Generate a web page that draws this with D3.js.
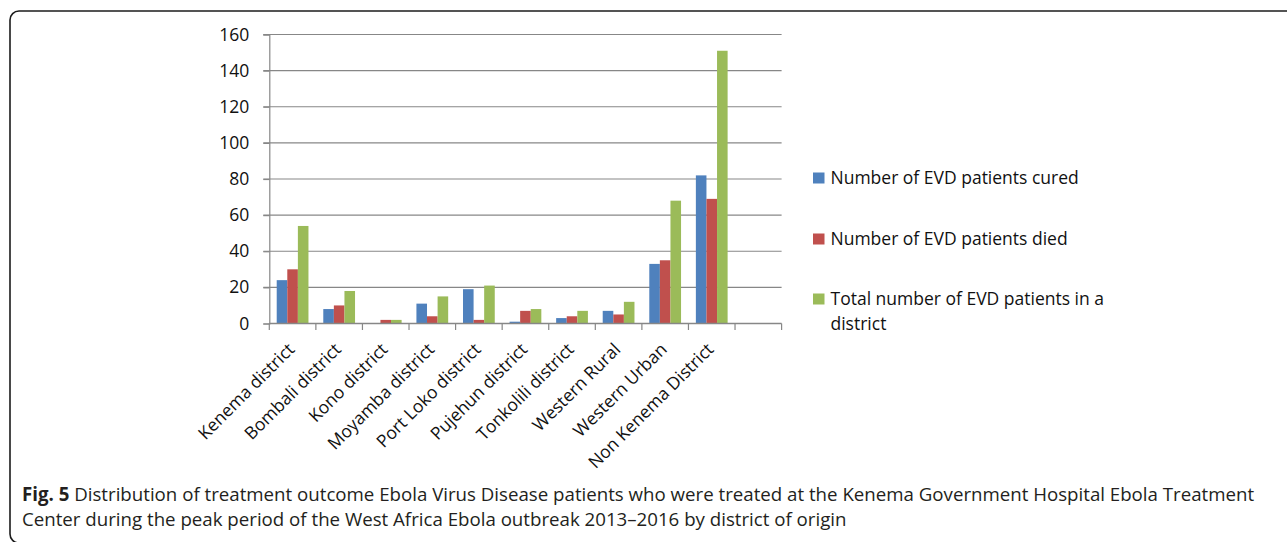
<!DOCTYPE html>
<html>
<head>
<meta charset="utf-8">
<script src="https://cdn.jsdelivr.net/npm/d3@7"></script>
<style>
  html, body { margin: 0; padding: 0; background: #fff; }
  svg { display: block; }
</style>
</head>
<body>
<svg id="chart" width="1287" height="542"></svg>
<script>
const categories = ["Kenema district", "Bombali district", "Kono district", "Moyamba district", "Port Loko district", "Pujehun district", "Tonkolili district", "Western Rural", "Western Urban", "Non Kenema District", ""];
const seriesNames = ["Number of EVD patients cured", "Number of EVD patients died", "Total number of EVD patients in a district"];
const cured = [24, 8, 0, 11, 19, 1, 3, 7, 33, 82];
const died = [30, 10, 2, 4, 2, 7, 4, 5, 35, 69];
const total = [54, 18, 2, 15, 21, 8, 7, 12, 68, 151];
const yTicks = [0, 20, 40, 60, 80, 100, 120, 140, 160];
const colors = ["#4F81BD", "#C0504D", "#9BBB59"];
const captionBold = "Fig. 5";
const captionLine1 = " Distribution of treatment outcome Ebola Virus Disease patients who were treated at the Kenema Government Hospital Ebola Treatment";
const captionLine2 = "Center during the peak period of the West Africa Ebola outbreak 2013\u20132016 by district of origin";

(function () {
const series = [cured, died, total];
const svg = d3.select("#chart");
const font = "'Open Sans', Lato, sans-serif";
const fs = 17.5;
const gridColor = "#878787";

svg.append("rect")
  .attr("x", 10).attr("y", 11)
  .attr("width", 1320).attr("height", 532)
  .attr("rx", 9).attr("ry", 9)
  .attr("fill", "none").attr("stroke", "#1c1c1c").attr("stroke-width", 1.6);

const pLeft = 269.3, pRight = 781.6, pTop = 34.5, pBottom = 323.5;
const x = d3.scaleBand().domain(categories.map((c, i) => i)).range([pLeft, pRight]).paddingInner(0).paddingOuter(0);
const y = d3.scaleLinear().domain([0, 160]).range([pBottom, pTop]);
const xs = d3.scaleBand().domain([0, 1, 2]).range([0, x.bandwidth()]).paddingInner(0).paddingOuter(0.7);

svg.append("g").selectAll("line").data(yTicks.filter(d => d > 0)).join("line")
  .attr("x1", pLeft - 6).attr("x2", pRight)
  .attr("y1", d => y(d)).attr("y2", d => y(d))
  .attr("stroke", gridColor).attr("stroke-width", 1.2);

const groups = svg.append("g").selectAll("g").data(d3.range(cured.length)).join("g")
  .attr("transform", i => `translate(${x(i)},0)`);
groups.selectAll("rect").data(i => series.map((s, k) => ({k, v: s[i]}))).join("rect")
  .attr("x", d => xs(d.k))
  .attr("width", xs.bandwidth())
  .attr("y", d => y(d.v))
  .attr("height", d => pBottom - y(d.v))
  .attr("fill", d => colors[d.k]);

const yAxis = d3.axisLeft(y).tickValues(yTicks).tickSize(6).tickPadding(14);
const gy = svg.append("g").attr("transform", `translate(${pLeft},0)`).call(yAxis);
gy.select(".domain").attr("stroke", gridColor).attr("stroke-width", 1.2);
gy.selectAll(".tick line").attr("stroke", gridColor).attr("stroke-width", 1.2);
gy.selectAll("text").attr("font-family", font).attr("font-size", fs).attr("fill", "#111");

svg.append("line").attr("x1", pLeft).attr("x2", pRight).attr("y1", pBottom).attr("y2", pBottom)
  .attr("stroke", gridColor).attr("stroke-width", 1.3);
svg.append("g").selectAll("line").data(d3.range(categories.length + 1)).join("line")
  .attr("x1", b => b < categories.length ? x(b) : pRight)
  .attr("x2", b => b < categories.length ? x(b) : pRight)
  .attr("y1", pBottom).attr("y2", pBottom + 6.5)
  .attr("stroke", gridColor).attr("stroke-width", 1.2);

svg.append("g").selectAll("text").data(categories).join("text")
  .attr("transform", (c, i) => `translate(${x(i) + x.bandwidth() / 2 + 3},${pBottom + 27}) rotate(-45)`)
  .attr("text-anchor", "end")
  .attr("font-family", font).attr("font-size", fs).attr("fill", "#111")
  .text(c => c);

const legendRows = [
  {k: 0, cy: 178, lines: [seriesNames[0]]},
  {k: 1, cy: 239, lines: [seriesNames[1]]},
  {k: 2, cy: 299, lines: ["Total number of EVD patients in a", "district"]}
];
const lg = svg.append("g");
legendRows.forEach(r => {
  lg.append("rect").attr("x", 813).attr("y", r.cy - 5.5).attr("width", 11.5).attr("height", 11)
    .attr("fill", colors[r.k]);
  const t = lg.append("text").attr("x", 830.5).attr("y", r.cy + 6)
    .attr("font-family", font).attr("font-size", fs).attr("fill", "#111");
  r.lines.forEach((ln, j) => t.append("tspan").attr("x", 830.5).attr("dy", j === 0 ? 0 : 24.5).text(ln));
});

// Caption, first line fitted to the figure width
const capFont = "'Open Sans', 'DejaVu Sans Condensed', sans-serif";
const capLeft = 22, capRight = 1255;
const c1 = svg.append("text").attr("x", capLeft).attr("y", 501)
  .attr("font-family", capFont).attr("font-size", 17).attr("fill", "#231f20");
c1.append("tspan").attr("font-weight", "bold").text(captionBold);
c1.append("tspan").text(captionLine1);
const capFs = 17 * (capRight - capLeft) / c1.node().getComputedTextLength();
c1.attr("font-size", capFs);
svg.append("text").attr("x", capLeft).attr("y", 526)
  .attr("font-family", capFont).attr("font-size", capFs).attr("fill", "#231f20").text(captionLine2);
})();
</script>
</body>
</html>
